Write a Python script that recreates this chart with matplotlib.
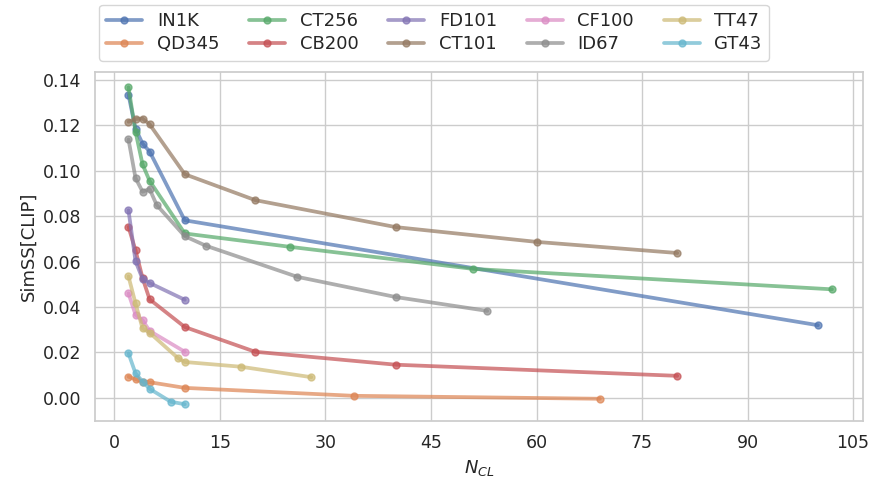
import matplotlib
matplotlib.use("Agg")
import matplotlib.pyplot as plt
import seaborn as sns

sns.set_theme(style="whitegrid")
plt.rcParams['font.family'] = ['DejaVu Sans']

labels = ["IN1K", "QD345", "CT256", "CB200", "FD101", "CT101", "CF100", "ID67", "TT47", "GT43"]

in1k_x = [2, 3, 4, 5, 10, 100]
in1k_y = [0.1335, 0.1185, 0.1120, 0.1085, 0.0782, 0.0320]

qd345_x = [2, 3, 4, 5, 10, 34, 69]
qd345_y = [0.0093, 0.0082, 0.0072, 0.0069, 0.0044, 0.0009, -0.0004]

ct256_x = [2, 3, 4, 5, 10, 25, 51, 102]
ct256_y = [0.1368, 0.1172, 0.1028, 0.0956, 0.0724, 0.0665, 0.0568, 0.0478]

cb200_x = [2, 3, 4, 5, 10, 20, 40, 80]
cb200_y = [0.0753, 0.0650, 0.0528, 0.0434, 0.0312, 0.0203, 0.0146, 0.0097]

fd101_x = [2, 3, 4, 5, 10]
fd101_y = [0.0826, 0.0602, 0.0524, 0.0506, 0.0432]

ct101_x = [2, 3, 4, 5, 10, 20, 40, 60, 80]
ct101_y = [0.1216, 0.1228, 0.1230, 0.1205, 0.0985, 0.0871, 0.0752, 0.0687, 0.0638]

cf100_x = [2, 3, 4, 5, 10]
cf100_y = [0.0460, 0.0366, 0.0342, 0.0295, 0.0203]

id67_x = [2, 3, 4, 5, 6, 10, 13, 26, 40, 53]
id67_y = [0.1138, 0.0968, 0.0908, 0.0920, 0.0850, 0.0712, 0.0670, 0.0533, 0.0444, 0.0383]

tt47_x = [2, 3, 4, 5, 9, 10, 18, 28]
tt47_y = [0.0535, 0.0416, 0.0306, 0.0287, 0.0176, 0.0158, 0.0137, 0.0091]

gt43_x = [2, 3, 4, 5, 8, 10]
gt43_y = [0.0196, 0.0108, 0.0072, 0.0040, -0.0017, -0.0028]

series = [
    (in1k_x, in1k_y), (qd345_x, qd345_y), (ct256_x, ct256_y), (cb200_x, cb200_y),
    (fd101_x, fd101_y), (ct101_x, ct101_y), (cf100_x, cf100_y), (id67_x, id67_y),
    (tt47_x, tt47_y), (gt43_x, gt43_y),
]

colors = sns.color_palette("deep", 10)

fig = plt.figure(figsize=(8.69, 4.82), dpi=100)
ax = fig.add_axes([0.109, 0.127, 0.884, 0.724])

for i, ((xs, ys), name) in enumerate(zip(series, labels)):
    ax.plot(xs, ys, marker="o", markersize=5, linewidth=2.7, alpha=0.7,
            color=colors[i], label=name)

ax.set_xlim(-2.8, 106.4)
ax.set_ylim(-0.0101, 0.1436)
ax.set_xticks(range(0, 106, 15))
ax.set_yticks([0.00, 0.02, 0.04, 0.06, 0.08, 0.10, 0.12, 0.14])
ax.set_yticklabels(["0.00", "0.02", "0.04", "0.06", "0.08", "0.10", "0.12", "0.14"])
ax.tick_params(labelsize=12.5)
ax.set_xlabel("$N_{CL}$", fontsize=13)
ax.set_ylabel("SimSS[CLIP]", fontsize=13)

handles, names = ax.get_legend_handles_labels()
fig.legend(handles, names, loc="upper left", bbox_to_anchor=(0.114, 0.99),
           borderaxespad=0, ncol=5, fontsize=13, frameon=True, handlelength=2.0,
           columnspacing=1.65, borderpad=0.4, labelspacing=0.3)

fig.savefig("out.png", dpi=100)
